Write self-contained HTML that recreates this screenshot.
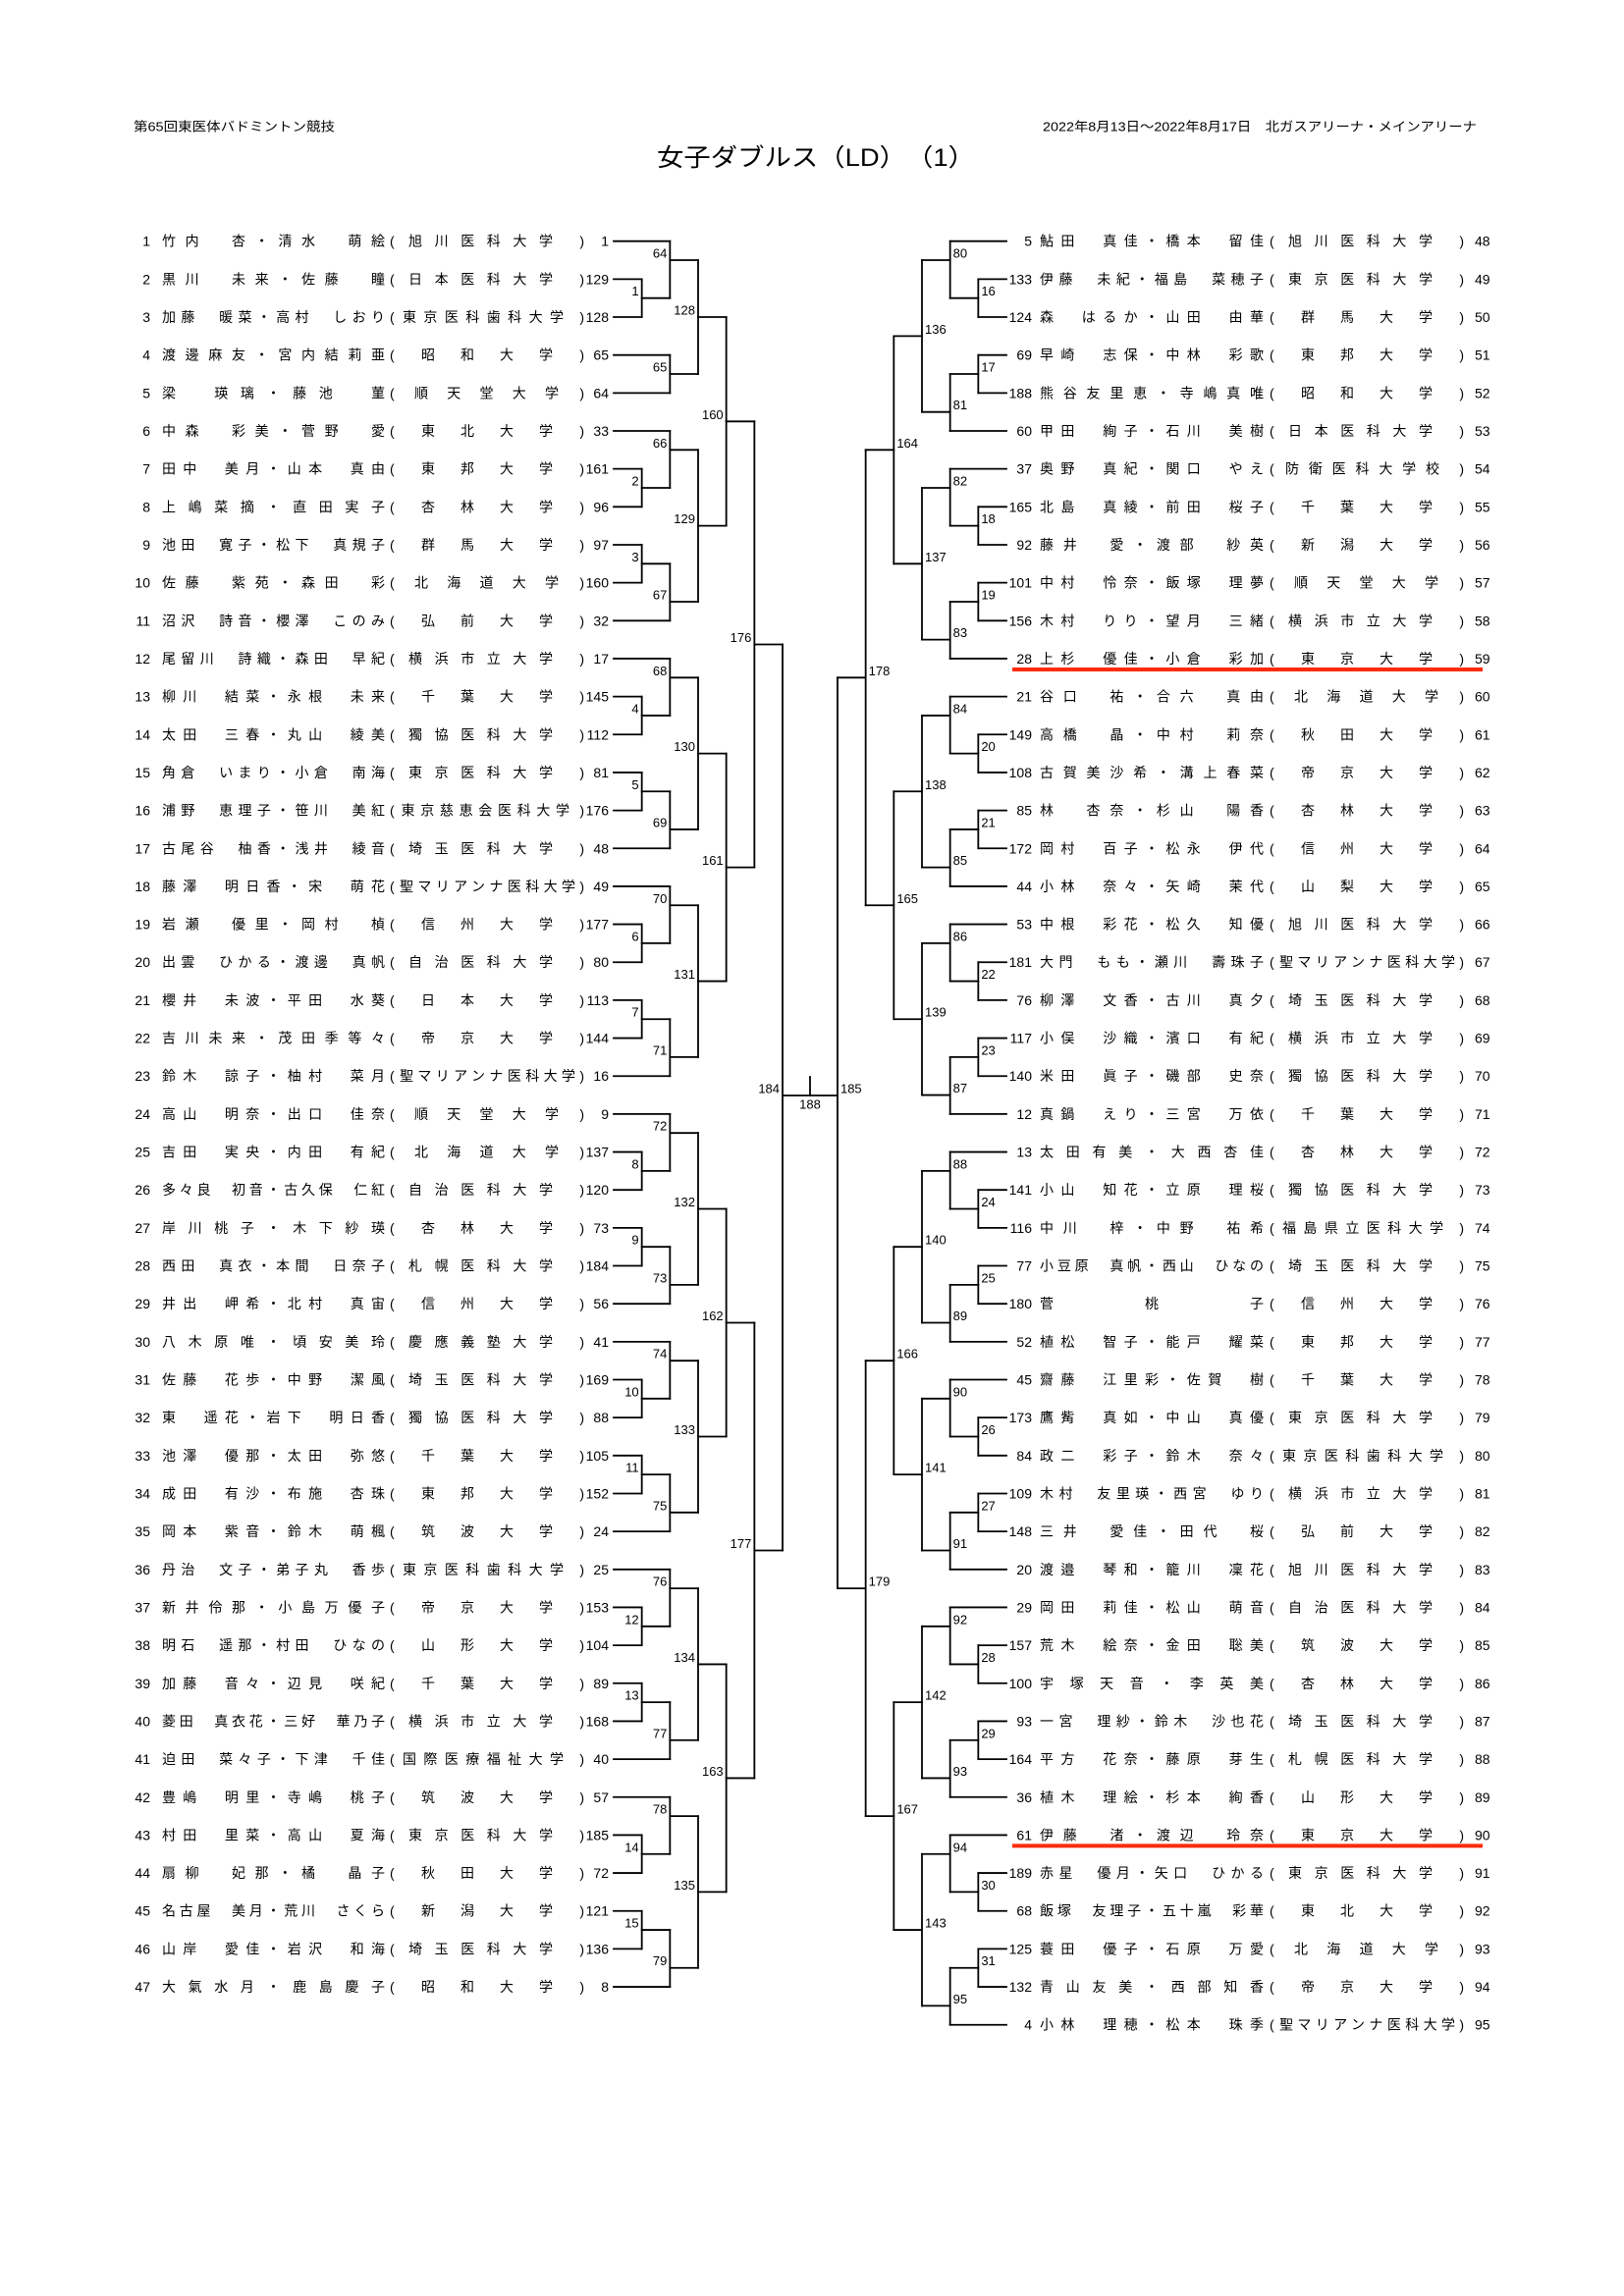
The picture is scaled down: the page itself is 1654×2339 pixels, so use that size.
<!DOCTYPE html>
<html><head><meta charset="utf-8">
<style>
html,body{margin:0;padding:0;background:#fff;}
svg{display:block;}
text{font-family:"Liberation Sans","Noto Sans CJK JP",sans-serif;fill:#000;}
</style></head>
<body>
<svg id="s" width="1654" height="2339" viewBox="0 0 1654 2339" xmlns="http://www.w3.org/2000/svg">
<text x="136" y="129" font-size="13" dominant-baseline="central" textLength="205" lengthAdjust="spacingAndGlyphs">第65回東医体バドミントン競技</text>
<text x="1062" y="129" font-size="13" dominant-baseline="central" textLength="442" lengthAdjust="spacingAndGlyphs">2022年8月13日～2022年8月17日　北ガスアリーナ・メインアリーナ</text>
<text x="669" y="161" font-size="25" dominant-baseline="central" textLength="324" lengthAdjust="spacingAndGlyphs">女子ダブルス（LD）　（1）</text>
</svg>
<script>
var NS="http://www.w3.org/2000/svg",S=document.getElementById('s');
function el(t,a,txt){var e=document.createElementNS(NS,t);for(var k in a)e.setAttribute(k,a[k]);if(txt!=null)e.textContent=txt;S.appendChild(e);return e;}
function Y(f){return 245.7+38.66*(f-1);}
function ln(x1,y1,x2,y2,c,w){el('line',{x1:x1,y1:y1,x2:x2,y2:y2,stroke:c||'#000','stroke-width':w||1.8,'stroke-linecap':'square'});}
function tx(x,y,s,o){var a={x:x,y:y,'font-size':(o&&o.fs)||14,'dominant-baseline':'central'};if(o&&o.anchor)a['text-anchor']=o.anchor;if(o&&o.len){a.textLength=o.len;a.lengthAdjust='spacing';}return el('text',a,s);}
var LX=function(k){return 625+28.67*k;},RX=function(k){return 1025-28.67*k;};

var L=[
["1","竹内　杏・清水　萌絵","旭川医科大学","1"],
["2","黒川　未来・佐藤　瞳","日本医科大学","129"],
["3","加藤　暖菜・高村　しおり","東京医科歯科大学","128"],
["4","渡邊麻友・宮内結莉亜","昭和大学","65"],
["5","梁　瑛璃・藤池　菫","順天堂大学","64"],
["6","中森　彩美・菅野　愛","東北大学","33"],
["7","田中　美月・山本　真由","東邦大学","161"],
["8","上嶋菜摘・直田実子","杏林大学","96"],
["9","池田　寛子・松下　真規子","群馬大学","97"],
["10","佐藤　紫苑・森田　彩","北海道大学","160"],
["11","沼沢　詩音・櫻澤　このみ","弘前大学","32"],
["12","尾留川　詩織・森田　早紀","横浜市立大学","17"],
["13","柳川　結菜・永根　未来","千葉大学","145"],
["14","太田　三春・丸山　綾美","獨協医科大学","112"],
["15","角倉　いまり・小倉　南海","東京医科大学","81"],
["16","浦野　恵理子・笹川　美紅","東京慈恵会医科大学","176"],
["17","古尾谷　柚香・浅井　綾音","埼玉医科大学","48"],
["18","藤澤　明日香・宋　萌花","聖マリアンナ医科大学","49"],
["19","岩瀬　優里・岡村　楨","信州大学","177"],
["20","出雲　ひかる・渡邊　真帆","自治医科大学","80"],
["21","櫻井　未波・平田　水葵","日本大学","113"],
["22","吉川未来・茂田季等々","帝京大学","144"],
["23","鈴木　諒子・柚村　菜月","聖マリアンナ医科大学","16"],
["24","高山　明奈・出口　佳奈","順天堂大学","9"],
["25","吉田　実央・内田　有紀","北海道大学","137"],
["26","多々良　初音・古久保　仁紅","自治医科大学","120"],
["27","岸川桃子・木下紗瑛","杏林大学","73"],
["28","西田　真衣・本間　日奈子","札幌医科大学","184"],
["29","井出　岬希・北村　真宙","信州大学","56"],
["30","八木原唯・頃安美玲","慶應義塾大学","41"],
["31","佐藤　花歩・中野　潔風","埼玉医科大学","169"],
["32","東　遥花・岩下　明日香","獨協医科大学","88"],
["33","池澤　優那・太田　弥悠","千葉大学","105"],
["34","成田　有沙・布施　杏珠","東邦大学","152"],
["35","岡本　紫音・鈴木　萌楓","筑波大学","24"],
["36","丹治　文子・弟子丸　香歩","東京医科歯科大学","25"],
["37","新井伶那・小島万優子","帝京大学","153"],
["38","明石　遥那・村田　ひなの","山形大学","104"],
["39","加藤　音々・辺見　咲紀","千葉大学","89"],
["40","菱田　真衣花・三好　華乃子","横浜市立大学","168"],
["41","迫田　菜々子・下津　千佳","国際医療福祉大学","40"],
["42","豊嶋　明里・寺嶋　桃子","筑波大学","57"],
["43","村田　里菜・高山　夏海","東京医科大学","185"],
["44","扇柳　妃那・橘　晶子","秋田大学","72"],
["45","名古屋　美月・荒川　さくら","新潟大学","121"],
["46","山岸　愛佳・岩沢　和海","埼玉医科大学","136"],
["47","大氣水月・鹿島慶子","昭和大学","8"]];

var R=[
["5","鮎田　真佳・橋本　留佳","旭川医科大学"],
["133","伊藤　未紀・福島　菜穂子","東京医科大学"],
["124","森　はるか・山田　由華","群馬大学"],
["69","早崎　志保・中林　彩歌","東邦大学"],
["188","熊谷友里恵・寺嶋真唯","昭和大学"],
["60","甲田　絢子・石川　美樹","日本医科大学"],
["37","奥野　真紀・関口　やえ","防衛医科大学校"],
["165","北島　真綾・前田　桜子","千葉大学"],
["92","藤井　愛・渡部　紗英","新潟大学"],
["101","中村　怜奈・飯塚　理夢","順天堂大学"],
["156","木村　りり・望月　三緒","横浜市立大学"],
["28","上杉　優佳・小倉　彩加","東京大学"],
["21","谷口　祐・合六　真由","北海道大学"],
["149","高橋　晶・中村　莉奈","秋田大学"],
["108","古賀美沙希・溝上春菜","帝京大学"],
["85","林　杏奈・杉山　陽香","杏林大学"],
["172","岡村　百子・松永　伊代","信州大学"],
["44","小林　奈々・矢崎　茉代","山梨大学"],
["53","中根　彩花・松久　知優","旭川医科大学"],
["181","大門　もも・瀬川　壽珠子","聖マリアンナ医科大学"],
["76","柳澤　文香・古川　真夕","埼玉医科大学"],
["117","小俣　沙織・濱口　有紀","横浜市立大学"],
["140","米田　眞子・磯部　史奈","獨協医科大学"],
["12","真鍋　えり・三宮　万依","千葉大学"],
["13","太田有美・大西杏佳","杏林大学"],
["141","小山　知花・立原　理桜","獨協医科大学"],
["116","中川　梓・中野　祐希","福島県立医科大学"],
["77","小豆原　真帆・西山　ひなの","埼玉医科大学"],
["180","菅桃子","信州大学"],
["52","植松　智子・能戸　耀菜","東邦大学"],
["45","齋藤　江里彩・佐賀　樹","千葉大学"],
["173","鷹觜　真如・中山　真優","東京医科大学"],
["84","政二　彩子・鈴木　奈々","東京医科歯科大学"],
["109","木村　友里瑛・西宮　ゆり","横浜市立大学"],
["148","三井　愛佳・田代　桜","弘前大学"],
["20","渡邉　琴和・籠川　凜花","旭川医科大学"],
["29","岡田　莉佳・松山　萌音","自治医科大学"],
["157","荒木　絵奈・金田　聡美","筑波大学"],
["100","宇塚天音・李英美","杏林大学"],
["93","一宮　理紗・鈴木　沙也花","埼玉医科大学"],
["164","平方　花奈・藤原　芽生","札幌医科大学"],
["36","植木　理絵・杉本　絢香","山形大学"],
["61","伊藤　渚・渡辺　玲奈","東京大学"],
["189","赤星　優月・矢口　ひかる","東京医科大学"],
["68","飯塚　友理子・五十嵐　彩華","東北大学"],
["125","蓑田　優子・石原　万愛","北海道大学"],
["132","青山友美・西部知香","帝京大学"],
["4","小林　理穂・松本　珠季","聖マリアンナ医科大学"]];

function school(off,y,s){
  var n=s.length,st,en;
  if(n<=4){st=1325;en=1459;}else if(n==5){st=1318;en=1465;}else if(n==6){st=1312;en=1459;}
  else if(n==7){st=1309;en=1466;}else{st=1306-(n-8)*1.5;en=1470+(n-8)*6;}
  tx(1293+off,y,"(",{});
  tx(1491+off,y,")",{anchor:'end'});
  if(n>1)tx(st+off,y,s,{len:en-st});else tx(st+off,y,s,{});
}
// red underlines
ln(1033,Y(12)+11,1508,Y(12)+11,'#ff2a0a',4);
ln(1033,Y(43)+11,1508,Y(43)+11,'#ff2a0a',4);

L.forEach(function(r,i){var y=Y(i+1);
  tx(153,y,r[0],{anchor:'end'});
  tx(165,y,r[1],{len:227});
  school(-896,y,r[2]);
  tx(620,y,r[3],{anchor:'end'});
});
R.forEach(function(r,i){var y=Y(i+1);
  tx(1051,y,r[0],{anchor:'end'});
  tx(1059,y,r[1],{len:228});
  school(0,y,r[2]);
  tx(1502,y,String(48+i),{});
});

function leaf(X,f,k){ln(X(0),Y(f),X(k),Y(f));}
function M(X,dir,k,ft,fb,fo,lab,noOut){
  ln(X(k),Y(ft),X(k),Y(fb));
  if(!noOut)ln(X(k),Y(fo),X(k+1),Y(fo));
  if(lab!=null){
    if(dir<0)tx(X(k)-3,Y(fo)-7,String(lab),{anchor:'end',fs:13});
    else tx(X(k)+3,Y(fo)-7,String(lab),{fs:13});
  }
}
function B(X,dir,r,l){
  leaf(X,r,2);leaf(X,r+1,1);leaf(X,r+2,1);leaf(X,r+3,1);leaf(X,r+4,1);leaf(X,r+5,2);
  M(X,dir,1,r+1,r+2,r+1.5,l[1]);
  M(X,dir,2,r,r+1.5,r+0.5,l[0]);
  M(X,dir,1,r+3,r+4,r+3.5,l[2]);
  M(X,dir,2,r+3.5,r+5,r+4.5,l[3]);
  M(X,dir,3,r+0.5,r+4.5,r+2.5,l[4]);
}
// left group A
leaf(LX,1,2);leaf(LX,2,1);leaf(LX,3,1);leaf(LX,4,2);leaf(LX,5,2);
M(LX,-1,1,2,3,2.5,1);
M(LX,-1,2,1,2.5,1.5,64);
M(LX,-1,2,4,5,4.5,65);
M(LX,-1,3,1.5,4.5,3,128);
var lg=[[6,[66,2,3,67,129]],[12,[68,4,5,69,130]],[18,[70,6,7,71,131]],[24,[72,8,9,73,132]],[30,[74,10,11,75,133]],[36,[76,12,13,77,134]],[42,[78,14,15,79,135]]];
lg.forEach(function(g){B(LX,-1,g[0],g[1]);});
M(LX,-1,4,3,8.5,5.75,160);
M(LX,-1,4,14.5,20.5,17.5,161);
M(LX,-1,4,26.5,32.5,29.5,162);
M(LX,-1,4,38.5,44.5,41.5,163);
M(LX,-1,5,5.75,17.5,11.625,176);
M(LX,-1,5,29.5,41.5,35.5,177);
M(LX,-1,6,11.625,35.5,0,null,true);

var rg=[[1,[80,16,17,81,136]],[7,[82,18,19,83,137]],[13,[84,20,21,85,138]],[19,[86,22,23,87,139]],[25,[88,24,25,89,140]],[31,[90,26,27,91,141]],[37,[92,28,29,93,142]],[43,[94,30,31,95,143]]];
rg.forEach(function(g){B(RX,1,g[0],g[1]);});
M(RX,1,4,3.5,9.5,6.5,164);
M(RX,1,4,15.5,21.5,18.5,165);
M(RX,1,4,27.5,33.5,30.5,166);
M(RX,1,4,39.5,45.5,42.5,167);
M(RX,1,5,6.5,18.5,12.5,178);
M(RX,1,5,30.5,42.5,36.5,179);
M(RX,1,6,12.5,36.5,0,null,true);

// final
var fy=1116;
ln(LX(6),fy,RX(6),fy);
ln(825,1097,825,fy);
tx(LX(6)-3,1109,"184",{anchor:'end',fs:13});
tx(RX(6)+3,1109,"185",{fs:13});
tx(825,1125,"188",{anchor:'middle',fs:13});
</script>
</body></html>
